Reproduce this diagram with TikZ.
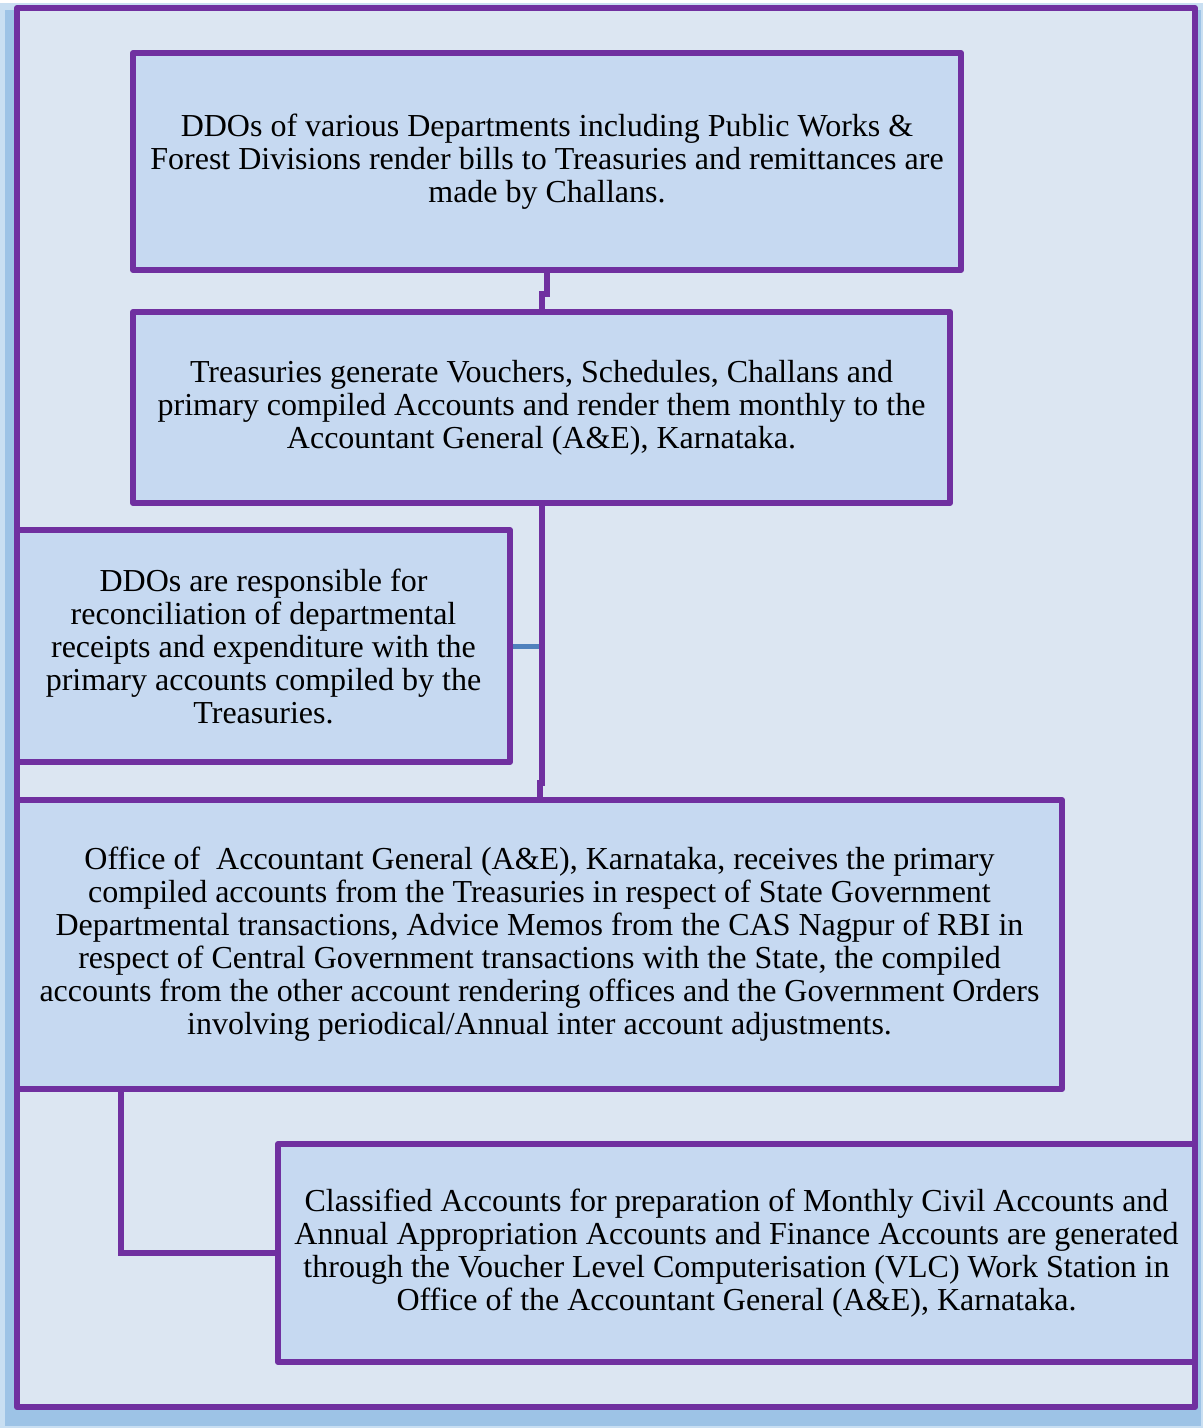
\documentclass[tikz,border=0pt]{standalone}
\usepackage{fontspec}
\setmainfont{Liberation Serif}
\definecolor{framefill}{HTML}{DCE6F2}
\definecolor{boxfill}{HTML}{C6D9F1}
\definecolor{purp}{HTML}{7030A0}
\definecolor{steel}{HTML}{4F81BD}
\definecolor{shad}{HTML}{9DC3E6}
\definecolor{shadlight}{HTML}{C9DFF2}
\begin{document}
\begin{tikzpicture}[x=1pt,y=-1pt,
  flowbox/.style={draw=purp, line width=6pt, fill=boxfill, inner sep=0pt,
    align=center, font=\fontsize{32}{33}\selectfont, line join=round},
  conn/.style={draw=purp, line width=6pt}]
\useasboundingbox (0,0) rectangle (1203,1428);
% shadow
\fill[shadlight] (0,3) rectangle (1203,1428);
\fill[shad] (5,10) rectangle (1201,1426);
% frame
\node[draw=purp, line width=6pt, fill=framefill, inner sep=0pt, minimum width=1178pt, minimum height=1399pt, line join=round] (frame) at (606,707.5) {};
% boxes
\node[flowbox, minimum width=828pt, minimum height=217pt] (b1) at (547,161.5)
 {DDOs of various Departments including Public Works \&\\Forest Divisions render bills to Treasuries and remittances are\\made by Challans.};
\node[flowbox, minimum width=817pt, minimum height=191pt] (b2) at (541.5,407.5)
 {Treasuries generate Vouchers, Schedules, Challans and\\primary compiled Accounts and render them monthly to the\\Accountant General (A\&E), Karnataka.};
\node[flowbox, minimum width=493pt, minimum height=232pt] (b3) at (263.5,646)
 {DDOs are responsible for\\reconciliation of departmental\\receipts and expenditure with the\\primary accounts compiled by the\\Treasuries.};
\node[flowbox, minimum width=1045pt, minimum height=289pt] (b4) at (539.5,944.5)
 {Office of\ \ Accountant General (A\&E), Karnataka, receives the primary\\compiled accounts from the Treasuries in respect of State Government\\Departmental transactions, Advice Memos from the CAS Nagpur of RBI in\\respect of Central Government transactions with the State, the compiled\\accounts from the other account rendering offices and the Government Orders\\involving periodical/Annual inter account adjustments.};
\node[flowbox, minimum width=917pt, minimum height=218pt] (b5) at (736.5,1253)
 {Classified Accounts for preparation of Monthly Civil Accounts and\\Annual Appropriation Accounts and Finance Accounts are generated\\through the Voucher Level Computerisation (VLC) Work Station in\\Office of the Accountant General (A\&E), Karnataka.};
% connectors
\draw[steel, line width=5pt] (b3.east) -- (b3.east -| b2.south);
\draw[conn] (b1.south) -- ++(0,21) -| (b2.north);
\draw[conn] (b2.south) -- ++(0,277) -| (b4.north);
\coordinate (c5) at (121,1089);
\draw[conn] (c5) |- (b5.west);
\end{tikzpicture}
\end{document}
